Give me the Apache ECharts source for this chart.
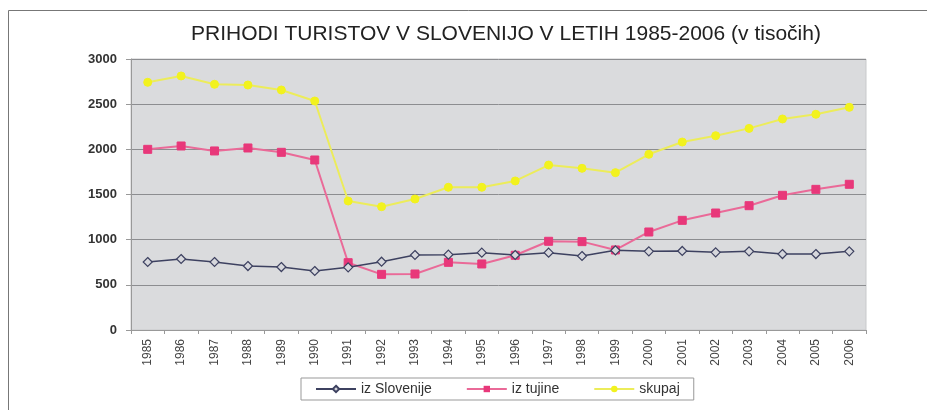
<!DOCTYPE html>
<html>
<head>
<meta charset="utf-8">
<script src="https://cdn.jsdelivr.net/npm/echarts@6/dist/echarts.min.js"></script>
<style>
  html, body { margin: 0; padding: 0; background: #fff; }
  #chart { width: 927px; height: 410px; }
</style>
</head>
<body>
<div id="chart"></div>
<script>
// leta
var years = ["1985", "1986", "1987", "1988", "1989", "1990", "1991", "1992", "1993", "1994", "1995",
  "1996", "1997", "1998", "1999", "2000", "2001", "2002", "2003", "2004", "2005", "2006"];
// prihodi (v tisocih), odcitano s slike
var izSlovenije = [753, 786, 753, 708, 697, 653, 694, 756, 830, 834, 856,
  830, 856, 819, 882, 871, 875, 860, 871, 841, 841, 871];
var izTujine = [2000, 2037, 1982, 2015, 1967, 1882, 745, 616, 620, 749, 731,
  827, 982, 978, 886, 1085, 1214, 1295, 1376, 1491, 1557, 1613];
var skupaj = [2742, 2812, 2720, 2712, 2657, 2535, 1428, 1365, 1450, 1580, 1580,
  1650, 1826, 1790, 1742, 1945, 2081, 2151, 2232, 2336, 2388, 2465];
var yTicks = [0, 500, 1000, 1500, 2000, 2500, 3000];

var chart = echarts.init(document.getElementById("chart"));
var option = {
  backgroundColor: "#fff",
  animation: false,
  title: {
    text: "PRIHODI TURISTOV V SLOVENIJO V LETIH 1985-2006 (v tisočih)",
    left: 501,
    textAlign: "center",
    top: 19,
    textStyle: { fontFamily: "Liberation Sans", fontSize: 21, fontWeight: "normal", color: "#222" }
  },
  graphic: [
    {
      type: "rect",
      shape: { x: 8.5, y: 10.5, width: 940, height: 420 },
      style: { fill: "none", stroke: "#777", lineWidth: 1 },
      silent: true
    }
  ],
  legend: {
    left: 301,
    top: 378,
    padding: [4, 14, 4, 14],
    borderColor: "#999",
    borderWidth: 1,
    itemWidth: 40,
    itemHeight: 8,
    itemGap: 34,
    textStyle: { fontFamily: "Liberation Sans", fontSize: 14, color: "#333" },
    data: ["iz Slovenije", "iz tujine", "skupaj"]
  },
  grid: { left: 131, right: 61, top: 59, bottom: 80, show: true, backgroundColor: "#dadbdd", borderColor: "#c8c9cb", borderWidth: 1 },
  xAxis: {
    type: "category",
    data: years,
    axisLine: { lineStyle: { color: "#999" } },
    axisTick: { show: true, length: 4, lineStyle: { color: "#999" } },
    axisLabel: { rotate: 90, fontFamily: "Liberation Sans", fontSize: 12, color: "#444", margin: 9 }
  },
  yAxis: {
    type: "value",
    min: yTicks[0],
    max: yTicks[yTicks.length - 1],
    interval: 500,
    axisLine: { show: true, lineStyle: { color: "#999" } },
    axisTick: { show: true, length: 5, lineStyle: { color: "#999" } },
    axisLabel: {
      fontFamily: "Liberation Sans", fontSize: 13, fontWeight: "bold", color: "#333", margin: 14,
      formatter: function (v) { return String(v); }
    },
    splitLine: { lineStyle: { color: "#8c8d90", width: 1 } }
  },
  series: [
    {
      name: "iz Slovenije",
      type: "line",
      data: izSlovenije,
      symbol: "diamond",
      symbolSize: 9,
      lineStyle: { color: "#3d4160", width: 1.5 },
      itemStyle: { color: "#d6d7dc", borderColor: "#3d4160", borderWidth: 1.2 },
      z: 3
    },
    {
      name: "iz tujine",
      type: "line",
      data: izTujine,
      symbol: "rect",
      symbolSize: 8,
      lineStyle: { color: "#ea6a98", width: 2 },
      itemStyle: { color: "#e8387a", borderColor: "#e8387a" },
      z: 2
    },
    {
      name: "skupaj",
      type: "line",
      data: skupaj,
      symbol: "circle",
      symbolSize: 8,
      lineStyle: { color: "#ecec5a", width: 2 },
      itemStyle: { color: "#f2f21e", borderColor: "#f2f21e" },
      z: 1
    }
  ]
};
chart.setOption(option);
</script>
</body>
</html>
